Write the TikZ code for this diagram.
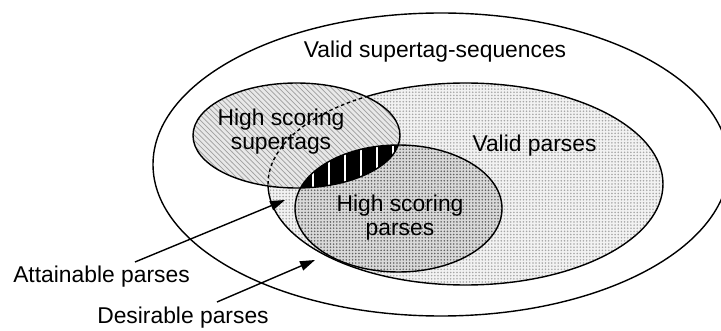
\documentclass[tikz,border=0pt]{standalone}
\usepackage{fontspec}
\setmainfont{Liberation Sans}
\usetikzlibrary{arrows.meta,patterns,patterns.meta,positioning}
\tikzdeclarepattern{name=finedots, type=uncolored,
  bounding box={(-0.1pt,-0.1pt) and (1.9pt,1.9pt)}, tile size={(1.8pt,1.8pt)},
  code={\fill (0.9pt,0.9pt) circle (0.5pt);}}
\tikzset{
  setline/.style={draw=black, line width=0.8pt},
  setlabel/.style={font=\fontsize{13}{13.6}\selectfont, align=center, inner sep=0pt},
  validfill/.style={preaction={fill=gray!10}, pattern=finedots, pattern color=gray!70},
  highfill/.style={preaction={fill=gray!30}, pattern=finedots, pattern color=gray!75!black},
  tagfill/.style={preaction={fill=gray!18}, pattern=north west lines, pattern color=gray!75},
  pointer/.style={-{Triangle[length=8.5pt,width=5.5pt]}, line width=0.8pt},
}
% the four sets
\newcommand{\outerset}{(441,164.5) ellipse [x radius=288, y radius=151.5]}
\newcommand{\validset}{(465.5,184) ellipse [x radius=197.5, y radius=101]}
\newcommand{\tagset}{(296.5,135.5) ellipse [x radius=103.5, y radius=52.5]}
\newcommand{\highset}{(398.5,208.5) ellipse [x radius=103.5, y radius=63.5]}

\begin{document}
\begin{tikzpicture}[x=0.02cm, y=-0.02cm]
\useasboundingbox (0,0) rectangle (721,331);

% Valid supertag-sequences
\path[setline, fill=white] \outerset;
% Valid parses
\path[validfill] \validset;
\draw[setline] \validset;
% High scoring supertags
\path[tagfill] \tagset;
\begin{scope}
  \clip \tagset;
  \draw[line width=0.8pt, dash pattern=on 2pt off 1.6pt] \validset;
\end{scope}
\draw[setline] \tagset;
% High scoring parses
\path[highfill] \highset;
% Attainable parses: overlap of both high scoring sets
\begin{scope}
  \clip \tagset;
  \clip \highset;
  \fill[black] \highset;
  \foreach \sx in {313,329,...,393}
    \draw[white, line width=1.1pt] (\sx,130) -- (\sx,200);
\end{scope}
\draw[setline] \highset;
\begin{scope}
  \clip \highset;
  \draw[setline] \tagset;
\end{scope}

% labels
\node[setlabel, anchor=base] (outerlbl) at (435,58) {Valid supertag-sequences};
\node[setlabel, anchor=base] (validlbl) at (534.5,152) {Valid parses};
\node[setlabel] (taglbl) at (281,132) {High scoring\\supertags};
\node[setlabel] (highlbl) at (400,218) {High scoring\\parses};
\node[setlabel, anchor=base] (attainlbl) at (101.5,282) {Attainable parses};
\node[setlabel, anchor=base] (desirelbl) at (183,323) {Desirable parses};

% pointers
\coordinate (attainfrom) at (135,262);
\coordinate (attainto) at (285,200);
\coordinate (desirefrom) at (217,302);
\coordinate (desireto) at (315,260);
\draw[pointer] (attainfrom) -- (attainto);
\draw[pointer] (desirefrom) -- (desireto);
\end{tikzpicture}
\end{document}
